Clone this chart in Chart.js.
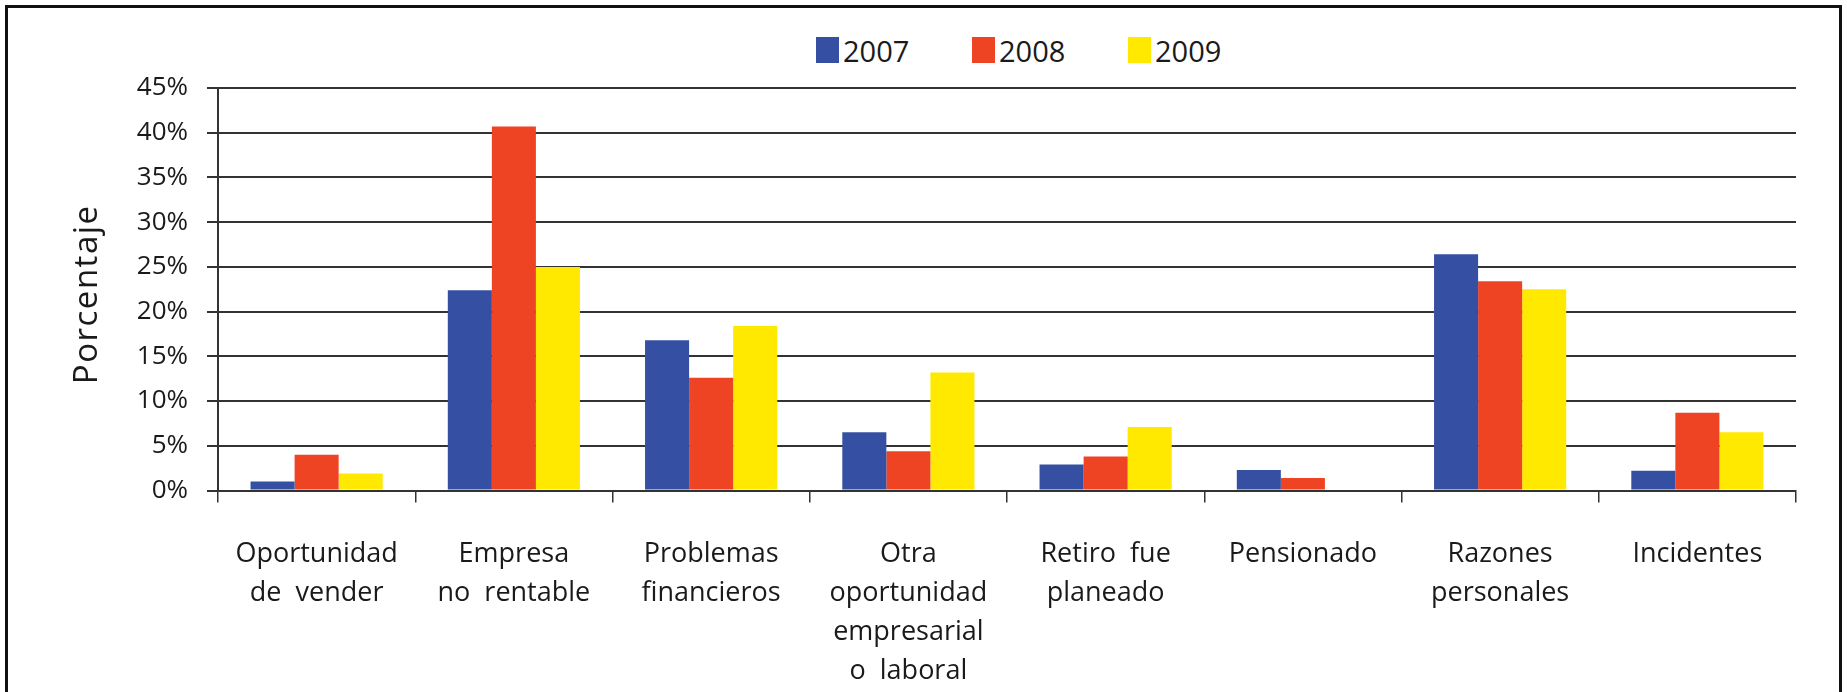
<!DOCTYPE html>
<html>
<head>
<meta charset="utf-8">
<script src="https://cdn.jsdelivr.net/npm/chart.js@4.4.1/dist/chart.umd.min.js"></script>
<style>
  html, body { margin: 0; padding: 0; background: #fff; }
  #wrap { position: relative; width: 1847px; height: 692px; overflow: hidden; }
  #frame { position: absolute; left: 5px; top: 5px; width: 1837px; height: 800px;
           border: 3px solid #111; box-sizing: border-box; }
  #legend { position: absolute; left: 816px; top: 34px; display: flex;
            font-family: 'Open Sans', sans-serif; font-size: 29px; color: #1a1a1a; }
  .item { width: 156px; display: flex; align-items: center; height: 32px; }
  .box { width: 23px; height: 26px; margin-right: 4px; }
  canvas { position: absolute; left: 0; top: 0; }
</style>
</head>
<body>
<div id="wrap">
  <div id="frame"></div>
  <div id="legend"></div>
  <canvas id="chart" width="1847" height="692"></canvas>
</div>
<script>
// Categories (multi-line labels as in the original)
const categories = [
  ['Oportunidad', 'de  vender'],
  ['Empresa', 'no  rentable'],
  ['Problemas', 'financieros'],
  ['Otra', 'oportunidad', 'empresarial', 'o  laboral'],
  ['Retiro  fue', 'planeado'],
  ['Pensionado'],
  ['Razones', 'personales'],
  ['Incidentes']
];

const years = ['2007', '2008', '2009'];
const values2007 = [1.0, 22.4, 16.8, 6.5, 2.9, 2.3, 26.4, 2.2];
const values2008 = [4.0, 40.7, 12.6, 4.4, 3.8, 1.4, 23.4, 8.7];
const values2009 = [1.9, 25.0, 18.4, 13.2, 7.1, 0, 22.5, 6.5];
const colors = ['#3550a3', '#ee4424', '#ffe900'];

const seriesData = [values2007, values2008, values2009];

// HTML legend
const legendEl = document.getElementById('legend');
years.forEach((y, i) => {
  const item = document.createElement('div');
  item.className = 'item';
  item.innerHTML = '<span class="box" style="background:' + colors[i] + '"></span><span>' + y + '</span>';
  legendEl.appendChild(item);
});

const textColor = '#1a1a1a';
const lineColor = '#333';

// slightly spaced axis title: letter spacing only while grid/title layer is drawn
const titleSpacing = {
  id: 'titleSpacing',
  beforeDraw(chart) { chart.ctx.letterSpacing = '1.5px'; },
  beforeDatasetsDraw(chart) { chart.ctx.letterSpacing = '0px'; }
};

new Chart(document.getElementById('chart'), {
  type: 'bar',
  data: {
    labels: categories,
    datasets: years.map((y, i) => ({
      label: y,
      data: seriesData[i],
      backgroundColor: colors[i],
      borderWidth: 0,
      barPercentage: 1.0,
      categoryPercentage: 0.67
    }))
  },
  plugins: [titleSpacing],
  options: {
    responsive: false,
    animation: false,
    layout: { padding: { top: 88, right: 51, left: 0, bottom: 0 } },
    plugins: {
      legend: { display: false },
      tooltip: { enabled: false }
    },
    scales: {
      x: {
        grid: {
          offset: true,
          drawOnChartArea: false,
          drawTicks: true,
          tickLength: 12,
          color: lineColor,
          lineWidth: 1.5
        },
        border: { display: true, color: lineColor, width: 2 },
        ticks: {
          z: 1,
          color: textColor,
          padding: 32,
          maxRotation: 0,
          autoSkip: false,
          font: { family: 'Open Sans', size: 27, lineHeight: '39px' }
        },
        afterFit: (scale) => { scale.height = 201.5; }
      },
      y: {
        min: 0,
        max: 45,
        grid: {
          color: lineColor,
          lineWidth: 2,
          tickLength: 11
        },
        border: { display: true, color: lineColor, width: 2 },
        ticks: {
          z: 1,
          stepSize: 5,
          color: textColor,
          padding: 19,
          font: { family: 'Open Sans', size: 26 },
          callback: (v) => v + '%'
        },
        title: {
          display: true,
          text: 'Porcentaje\u00a0',
          color: textColor,
          font: { family: 'Open Sans', size: 33, lineHeight: 1.2 },
          padding: { top: 68, bottom: 0 }
        },
        afterFit: (scale) => { scale.width = 218; }
      }
    }
  }
});
</script>
</body>
</html>
